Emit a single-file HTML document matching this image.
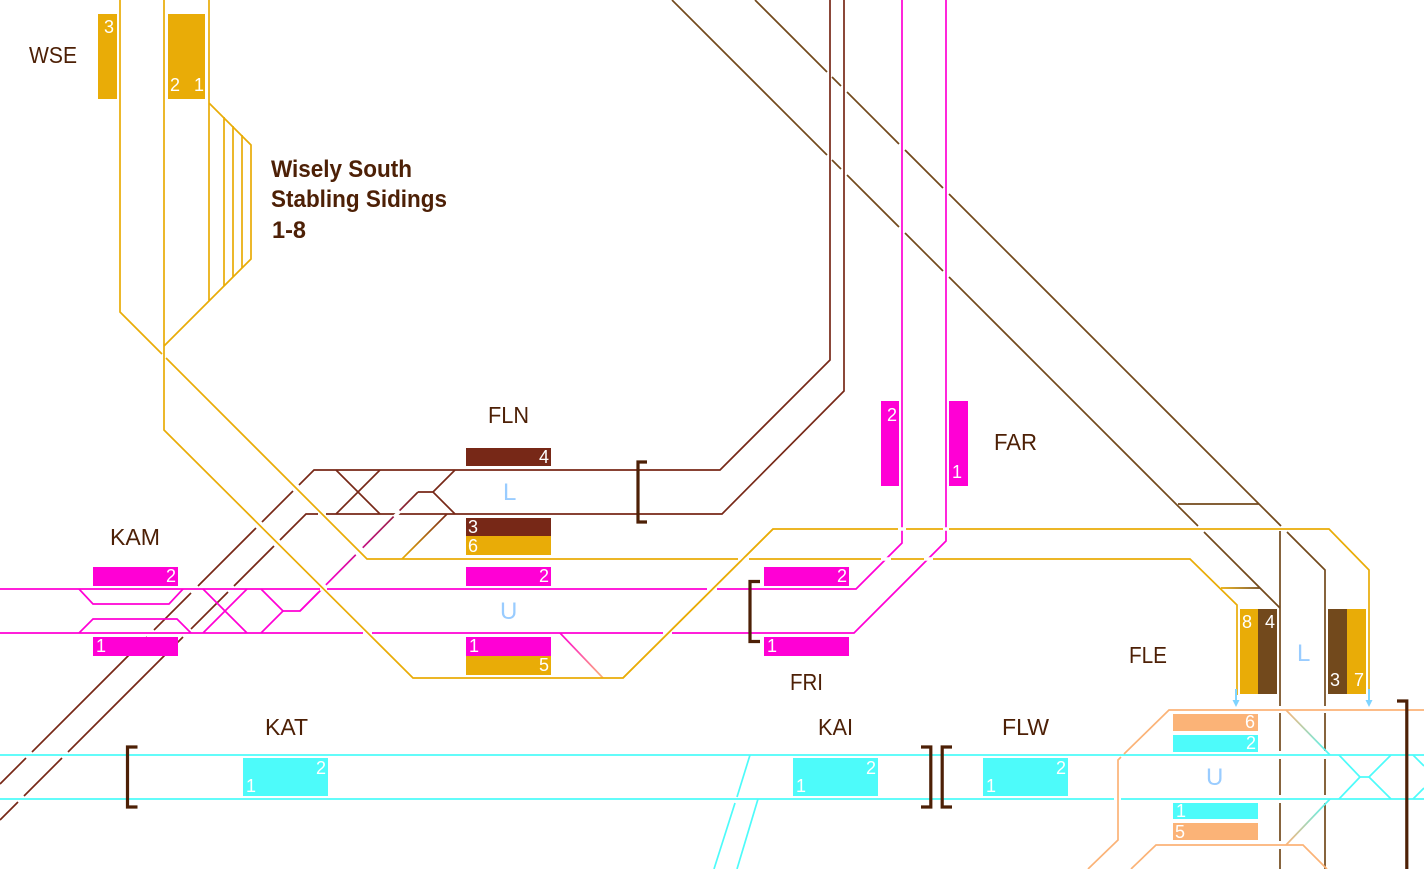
<!DOCTYPE html>
<html><head><meta charset="utf-8"><style>
html,body{margin:0;padding:0;background:#fff;width:1424px;height:869px;overflow:hidden}
svg{display:block}
text{font-family:"Liberation Sans",sans-serif}
.l{fill:#4d2006;font-size:23px}
.b{fill:#4d2006;font-size:24px;font-weight:bold}
.n{fill:#fff;font-size:18px}
.d{fill:#99ccff;font-size:24px}
.s{fill:none;stroke-width:1.7;stroke-linejoin:miter}
.gap{stroke:#fff;stroke-width:3.5;fill:none}
.br{fill:none;stroke:#4d2006;stroke-width:3.2}
</style></head><body>
<svg width="1424" height="869" viewBox="0 0 1424 869" xmlns="http://www.w3.org/2000/svg">
<defs>
<linearGradient id="g1" gradientUnits="userSpaceOnUse" x1="418" y1="492" x2="322" y2="589"><stop offset="0" stop-color="#772817"/><stop offset="1" stop-color="#ff00d5"/></linearGradient>
<linearGradient id="g2" gradientUnits="userSpaceOnUse" x1="447" y1="514" x2="402" y2="559"><stop offset="0" stop-color="#772817"/><stop offset="1" stop-color="#e9ac07"/></linearGradient>
<linearGradient id="g3" gradientUnits="userSpaceOnUse" x1="560" y1="633" x2="603" y2="678"><stop offset="0" stop-color="#ff00d5"/><stop offset="1" stop-color="#fbb377"/></linearGradient>
<linearGradient id="g4" gradientUnits="userSpaceOnUse" x1="1286" y1="710" x2="1330" y2="755"><stop offset="0" stop-color="#fbb377"/><stop offset="1" stop-color="#4dfbfa"/></linearGradient>
<linearGradient id="g5" gradientUnits="userSpaceOnUse" x1="1286" y1="845" x2="1330" y2="799"><stop offset="0" stop-color="#fbb377"/><stop offset="1" stop-color="#4dfbfa"/></linearGradient>
<linearGradient id="g6" gradientUnits="userSpaceOnUse" x1="1221" y1="588" x2="1260" y2="588"><stop offset="0" stop-color="#e9ac07"/><stop offset="1" stop-color="#72491c"/></linearGradient>
</defs>

<!-- far brown lines -->
<g class="s" stroke="#72491c">
<path d="M672 0L1280 608"/>
<path d="M755 0L1325 570V706M1325 713V751M1325 759V795M1325 803V869"/>
<path d="M1280 531V706M1280 713V751M1280 759V795M1280 803V841M1280 849V869"/>
<path d="M1178 504H1259"/>
</g>
<path class="s" d="M1221 588H1260" stroke="url(#g6)"/>
<g class="gap">
<path d="M1198 526L1204 532M1281 526L1287 532"/>
<path d="M827 72L832 77M841 86L847 92M899 144L905 150M943 188L949 194"/>
<path d="M827 155L832 160M841 169L847 175M899 227L905 233M943 271L949 277"/>
</g>

<!-- L lines -->
<g class="s" stroke="#772817">
<path d="M830 0V360L720 470H314L0 784"/>
<path d="M844 0V391L722 514H306L0 820"/>
<path d="M336 470L380 514M380 470L336 514"/>
<path d="M455 470L433 492H418M433 492L455 514"/>
</g>
<path class="s" d="M418 492L300 611" stroke="url(#g1)"/>
<path class="s" d="M447 514L402 559" stroke="url(#g2)"/>
<g class="gap">
<path d="M293 491L299 485M256 528L262 522M311 509L317 503M274 546L280 540"/>
<path d="M318 514H326M394 517L400 511"/>
<path d="M191 593L198 586M147 637L154 630M228 592L234 586M183 637L191 629"/>
<path d="M26 758L32 752M62 758L68 752M18 802L24 796"/>
<path d="M356 555L363 548M319 592L326 585"/>
</g>

<!-- U lines -->
<g class="s" stroke="#ff00d5">
<path d="M0 589H856L902 543V0"/>
<path d="M0 633H854L946 541V0"/>
<path d="M79 589L93 604H169L183 589"/>
<path d="M79 633L93 619H177L191 633"/>
<path d="M203 589L247 633M247 589L203 633"/>
<path d="M261 589L283 611H300L322 589"/>
<path d="M261 633L283 611"/>
</g>
<path class="s" d="M560 633L603 678" stroke="url(#g3)"/>
<g class="gap">
<path d="M320 589H327M363 633H372M707 589H717M663 633H672"/>
</g>

<!-- gold -->
<g class="s" stroke="#e9ac07">
<path d="M120 0V312L162 354M166 358L367 559H1190L1237 605V695"/>
<path d="M164 0V430L413 678H623L773 529H1329L1369 570V695"/>
<path d="M209 0V301L164 346M209 301L251 259V145L209 103"/>
<path d="M224 117V286M233 126V277M242 135V268"/>
</g>
<g class="gap">
<path d="M898 529H906M943 529H949M881 559H891M924 559H933M738 559H749"/>
</g>
<path class="s" d="M773 529L623 678" stroke="#e9ac07"/>

<!-- cyan -->
<g class="s" stroke="#4dfbfa">
<path d="M0 755H1424"/>
<path d="M0 799H1424"/>
<path d="M750 755L737 797M735 803L714 869"/>
<path d="M758 799L737 869"/>
<path d="M1339 755L1360 777H1369L1391 755"/>
<path d="M1339 799L1360 777M1369 777L1391 799"/>
<path d="M1413 755L1424 766M1413 799L1424 788"/>
</g>
<g class="gap"><path d="M1114 799H1121"/></g>

<!-- orange -->
<g class="s" stroke="#fbb377">
<path d="M1424 710H1169L1124 754M1121 757L1118 760V840L1088 869"/>
<path d="M1131 869L1156 845H1303L1327 869"/>
</g>
<path class="s" d="M1286 710L1330 755" stroke="url(#g4)"/>
<path class="s" d="M1286 845L1330 799" stroke="url(#g5)"/>

<!-- arrows -->
<path d="M1236 689V701" stroke="#7fd4ff" stroke-width="2"/>
<path d="M1232.500 700H1239.500L1236 707Z" fill="#7fd4ff"/>
<path d="M1369 689V701" stroke="#7fd4ff" stroke-width="2"/>
<path d="M1365.500 700H1372.500L1369 707Z" fill="#7fd4ff"/>

<!-- brackets -->
<path class="br" d="M137.500 747H127.500V807H137.500"/>
<path class="br" d="M647 462H638V522H647"/>
<path class="br" d="M760 581.500H750V641.500H760"/>
<path class="br" d="M921 747H930.800V807H921"/>
<path class="br" d="M952 747H942.200V807H952"/>
<path class="br" d="M1397 701H1406.800V869"/>

<!-- rects -->
<g fill="#e9ac07">
<rect x="98" y="14" width="19" height="85"/>
<rect x="168" y="14" width="37" height="85"/>
<rect x="466" y="536" width="85" height="19"/>
<rect x="466" y="656" width="85" height="19"/>
<rect x="1240" y="609" width="18" height="85"/>
<rect x="1347" y="609" width="19" height="85"/>
</g>
<g fill="#772817">
<rect x="466" y="448" width="85" height="18"/>
<rect x="466" y="518" width="85" height="18"/>
</g>
<g fill="#72491c">
<rect x="1258" y="609" width="19" height="85"/>
<rect x="1328" y="609" width="19" height="85"/>
</g>
<g fill="#ff00d5">
<rect x="93" y="567" width="85" height="19"/>
<rect x="93" y="637" width="85" height="19"/>
<rect x="466" y="567" width="85" height="19"/>
<rect x="466" y="637" width="85" height="19"/>
<rect x="764" y="567" width="85" height="19"/>
<rect x="764" y="637" width="85" height="19"/>
<rect x="881" y="401" width="18" height="85"/>
<rect x="949" y="401" width="19" height="85"/>
</g>
<g fill="#4dfbfa">
<rect x="243" y="758" width="85" height="38"/>
<rect x="793" y="758" width="85" height="38"/>
<rect x="983" y="758" width="85" height="38"/>
<rect x="1173" y="735" width="85" height="17"/>
<rect x="1173" y="803" width="85" height="16"/>
</g>
<g fill="#fbb377">
<rect x="1173" y="714" width="85" height="17"/>
<rect x="1173" y="823" width="85" height="17"/>
</g>

<!-- numbers -->
<g class="n">
<text x="104" y="33">3</text><text x="170" y="91">2</text><text x="194" y="91">1</text>
<text x="539" y="463">4</text><text x="468" y="533">3</text><text x="468" y="552">6</text>
<text x="539" y="582">2</text><text x="469" y="652">1</text><text x="539" y="671">5</text>
<text x="166" y="582">2</text><text x="96" y="652">1</text>
<text x="837" y="582">2</text><text x="767" y="652">1</text>
<text x="887" y="421">2</text><text x="952" y="478">1</text>
<text x="1242" y="628">8</text><text x="1265" y="628">4</text><text x="1330" y="686">3</text><text x="1354" y="686">7</text>
<text x="1245" y="728">6</text><text x="1246" y="749">2</text><text x="1176" y="817">1</text><text x="1175" y="838">5</text>
<text x="316" y="774">2</text><text x="246" y="792">1</text>
<text x="866" y="774">2</text><text x="796" y="792">1</text>
<text x="1056" y="774">2</text><text x="986" y="792">1</text>
</g>

<!-- labels -->
<g class="l">
<text x="29" y="63" textLength="48" lengthAdjust="spacingAndGlyphs">WSE</text>
<text x="488" y="423" textLength="41" lengthAdjust="spacingAndGlyphs">FLN</text>
<text x="110" y="545" textLength="50" lengthAdjust="spacingAndGlyphs">KAM</text>
<text x="994" y="450" textLength="43" lengthAdjust="spacingAndGlyphs">FAR</text>
<text x="790" y="690" textLength="33" lengthAdjust="spacingAndGlyphs">FRI</text>
<text x="1129" y="663" textLength="38" lengthAdjust="spacingAndGlyphs">FLE</text>
<text x="265" y="735" textLength="43" lengthAdjust="spacingAndGlyphs">KAT</text>
<text x="818" y="735" textLength="35" lengthAdjust="spacingAndGlyphs">KAI</text>
<text x="1002" y="735" textLength="47" lengthAdjust="spacingAndGlyphs">FLW</text>
</g>
<g class="b">
<text x="271" y="177" textLength="141" lengthAdjust="spacingAndGlyphs">Wisely South</text>
<text x="271" y="207" textLength="176" lengthAdjust="spacingAndGlyphs">Stabling Sidings</text>
<text x="272" y="238" textLength="34" lengthAdjust="spacingAndGlyphs">1-8</text>
</g>
<g class="d">
<text x="503" y="500">L</text><text x="500" y="619">U</text>
<text x="1297" y="661">L</text><text x="1206" y="785">U</text>
</g>
</svg>
</body></html>
